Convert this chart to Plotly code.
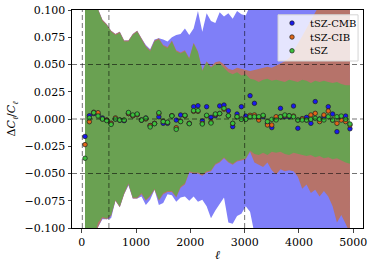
import plotly.graph_objects as go

# multipole grid
ell = [60 + 80 * i for i in range(62)]

# data points (fractional residuals)
tsz = [-0.036, 0.001, 0.0058, 0.0028, 0.0, -0.0015, -0.005, 0.0, -0.001, -0.001,
       0.006, 0.0037, 0.0046, -0.001, 0.0006, -0.0073, -0.0043, 0.0058, -0.0024, -0.003,
       0.0028, -0.0095, -0.0024, 0.0034, -0.0043, 0.0077, 0.0077, -0.0046, 0.0034, -0.0037,
       0.0046, 0.005, 0.0098, 0.003, -0.004, 0.0021, -0.0003, -0.0003, 0.0021, 0.0021,
       0.0021, 0.0034, -0.0024, -0.0003, -0.0009, 0.0021, 0.0037, 0.003, 0.0021, -0.0009,
       -0.0009, -0.0009, -0.0003, 0.0006, -0.0003, -0.0009, 0.0021, -0.0009, 0.0021, 0.0027,
       -0.0003, -0.0046]
tsz_cmb = [-0.016, 0.003, 0.005, 0.004, 0.001, -0.001, -0.004, 0.0, -0.001, -0.0015,
           0.005, 0.003, 0.004, -0.001, 0.001, -0.006, -0.004, 0.002, -0.004, -0.004,
           0.003, -0.001, 0.0037, 0.003, -0.004, 0.0113, 0.0122, -0.0018, 0.0113, 0.0015,
           0.003, 0.012, 0.0128, 0.0076, -0.007, 0.0046, 0.0113, 0.0027, 0.0214, 0.0144,
           0.001, 0.0021, -0.004, -0.0079, 0.0, 0.0098, 0.0021, 0.002, 0.0119, -0.0085,
           0.0, 0.0015, -0.004, 0.016, 0.0, 0.0021, 0.0113, 0.0046, -0.0116, 0.001,
           0.0027, -0.009]
tsz_cib = [-0.0235, -0.0025, 0.0062, 0.0058, 0.0, -0.001, -0.004, 0.001, -0.001, -0.001,
           0.005, 0.003, 0.004, -0.001, 0.0, -0.006, -0.004, 0.005, -0.002, -0.003,
           0.003, -0.008, -0.002, 0.003, -0.004, 0.007, 0.007, -0.004, 0.003, -0.003,
           0.004, 0.005, 0.009, 0.003, -0.004, 0.002, 0.0, 0.0, 0.0034, 0.0037,
           -0.001, 0.003, -0.0055, -0.0055, 0.0021, 0.002, 0.003, 0.003, 0.0027, -0.001,
           0.0003, -0.001, 0.0037, 0.0052, -0.0024, 0.0037, 0.0073, -0.001, -0.004, -0.001,
           -0.0024, -0.0055]

# error bands (upper / lower)
cmb_up = [0.13, 0.12, 0.11, 0.10, 0.091, 0.087, 0.081, 0.078, 0.080, 0.072,
          0.072, 0.078, 0.081, 0.074, 0.068, 0.064, 0.073, 0.074, 0.073, 0.071,
          0.075, 0.077, 0.078, 0.083, 0.077, 0.083, 0.099, 0.080, 0.097, 0.090,
          0.088, 0.098, 0.094, 0.097, 0.092, 0.099, 0.096, 0.095, 0.104, 0.11,
          0.12, 0.12, 0.12, 0.12, 0.12, 0.12, 0.12, 0.12, 0.12, 0.12,
          0.12, 0.12, 0.12, 0.12, 0.12, 0.12, 0.12, 0.12, 0.12, 0.12,
          0.12, 0.12]
cmb_lo = [-0.13, -0.12, -0.11, -0.099, -0.092, -0.092, -0.091, -0.075, -0.081, -0.069,
          -0.061, -0.073, -0.073, -0.071, -0.079, -0.074, -0.065, -0.079, -0.077, -0.069,
          -0.070, -0.076, -0.072, -0.071, -0.075, -0.071, -0.076, -0.074, -0.080, -0.091,
          -0.084, -0.078, -0.072, -0.095, -0.096, -0.089, -0.087, -0.080, -0.085, -0.105,
          -0.12, -0.12, -0.12, -0.12, -0.12, -0.12, -0.12, -0.12, -0.12, -0.12,
          -0.12, -0.12, -0.12, -0.12, -0.12, -0.12, -0.12, -0.12, -0.12, -0.12,
          -0.12, -0.12]
cib_up = [0.13, 0.12, 0.11, 0.10, 0.091, 0.087, 0.081, 0.078, 0.080, 0.072,
          0.072, 0.078, 0.081, 0.074, 0.067, 0.063, 0.072, 0.074, 0.068, 0.066,
          0.072, 0.063, 0.061, 0.063, 0.056, 0.070, 0.062, 0.045, 0.053, 0.048,
          0.052, 0.053, 0.050, 0.046, 0.045, 0.047, 0.046, 0.045, 0.044, 0.045,
          0.046, 0.047, 0.048, 0.047, 0.049, 0.051, 0.053, 0.056, 0.062, 0.069,
          0.076, 0.083, 0.090, 0.097, 0.105, 0.12, 0.12, 0.12, 0.12, 0.12,
          0.12, 0.12]
cib_lo = [-0.13, -0.12, -0.11, -0.099, -0.091, -0.092, -0.089, -0.075, -0.081, -0.069,
          -0.060, -0.073, -0.073, -0.069, -0.075, -0.071, -0.065, -0.075, -0.069, -0.067,
          -0.067, -0.072, -0.063, -0.060, -0.049, -0.050, -0.050, -0.052, -0.049, -0.048,
          -0.042, -0.040, -0.036, -0.040, -0.042, -0.039, -0.038, -0.037, -0.030, -0.040,
          -0.042, -0.044, -0.040, -0.047, -0.051, -0.046, -0.048, -0.047, -0.048, -0.053,
          -0.064, -0.060, -0.068, -0.065, -0.071, -0.066, -0.071, -0.080, -0.095, -0.088,
          -0.096, -0.105]
tsz_up = [0.13, 0.12, 0.11, 0.10, 0.09, 0.086, 0.080, 0.077, 0.079, 0.071,
          0.071, 0.077, 0.080, 0.073, 0.066, 0.062, 0.071, 0.073, 0.067, 0.065,
          0.071, 0.062, 0.060, 0.062, 0.055, 0.069, 0.061, 0.044, 0.052, 0.047,
          0.050, 0.051, 0.047, 0.043, 0.041, 0.043, 0.040, 0.041, 0.037, 0.036,
          0.034, 0.036, 0.037, 0.035, 0.036, 0.035, 0.034, 0.036, 0.035, 0.034,
          0.036, 0.035, 0.033, 0.035, 0.034, 0.035, 0.034, 0.033, 0.034, 0.032,
          0.031, 0.031]
tsz_lo = [-0.13, -0.12, -0.11, -0.095, -0.090, -0.091, -0.088, -0.074, -0.080, -0.068,
          -0.059, -0.072, -0.072, -0.068, -0.074, -0.070, -0.064, -0.074, -0.068, -0.066,
          -0.066, -0.071, -0.062, -0.059, -0.048, -0.049, -0.049, -0.051, -0.048, -0.047,
          -0.041, -0.039, -0.035, -0.039, -0.041, -0.038, -0.037, -0.036, -0.029, -0.032,
          -0.033, -0.031, -0.033, -0.030, -0.031, -0.030, -0.032, -0.033, -0.031, -0.032,
          -0.033, -0.034, -0.033, -0.035, -0.034, -0.036, -0.035, -0.037, -0.036, -0.038,
          -0.040, -0.041]

series_names = ["tSZ-CMB", "tSZ-CIB", "tSZ"]
vlines = [10, 500, 3000]
hlines = [-0.05, 0.0, 0.05]
xticks = [0, 1000, 2000, 3000, 4000, 5000]
yticks = [-0.1, -0.075, -0.05, -0.025, 0.0, 0.025, 0.05, 0.075, 0.1]

band_cols = ["#7f7ff8", "#b6736a", "#6aa152"]
dot_cols = ["#1818f0", "#e0661a", "#3cc03c"]
FONT = "DejaVu Serif"

fig = go.Figure()
for up, lo, col in [(cmb_up, cmb_lo, band_cols[0]), (cib_up, cib_lo, band_cols[1]),
                    (tsz_up, tsz_lo, band_cols[2])]:
    fig.add_trace(go.Scatter(x=ell, y=lo, mode="lines", line=dict(width=0, color=col),
                             showlegend=False, hoverinfo="skip"))
    fig.add_trace(go.Scatter(x=ell, y=up, mode="lines", line=dict(width=0, color=col),
                             fill="tonexty", fillcolor=col,
                             showlegend=False, hoverinfo="skip"))

for name, vals, col in zip(series_names, [tsz_cmb, tsz_cib, tsz], dot_cols):
    fig.add_trace(go.Scatter(x=ell, y=vals, mode="markers", name=name, showlegend=False,
                             marker=dict(size=4.5, color=col, line=dict(width=0.7, color="#202020"))))

# custom compact legend on an overlay axis in [0,1] units
lx0, lx1, ly0, ly1 = 0.708, 0.983, 0.766, 0.978
fig.add_trace(go.Scatter(x=[lx0, lx1, lx1, lx0, lx0], y=[ly0, ly0, ly1, ly1, ly0],
                         xaxis="x2", yaxis="y2", mode="lines", fill="toself",
                         fillcolor="rgba(255,255,255,0.8)", line=dict(color="#d4d4d4", width=1),
                         showlegend=False, hoverinfo="skip"))
row_y = [0.940, 0.876, 0.813]
fig.add_trace(go.Scatter(x=[0.756] * 3, y=row_y, xaxis="x2", yaxis="y2", mode="markers",
                         marker=dict(size=4.5, color=dot_cols, line=dict(width=0.7, color="#202020")),
                         showlegend=False, hoverinfo="skip"))
annotations = [dict(x=0.812, y=yy, xref="paper", yref="paper", text=nm, showarrow=False,
                    xanchor="left", yanchor="middle", font=dict(family=FONT, size=10))
               for nm, yy in zip(series_names, row_y)]

shapes = []
for v in vlines:
    shapes.append(dict(type="line", xref="x", yref="paper", x0=v, x1=v, y0=0, y1=1,
                       line=dict(color="rgba(0,0,0,0.55)", width=1, dash="5px,3px"), layer="above"))
for h in hlines:
    shapes.append(dict(type="line", xref="paper", yref="y", x0=0, x1=1, y0=h, y1=h,
                       line=dict(color="rgba(0,0,0,0.55)", width=1, dash="5px,3px"), layer="above"))

fig.update_layout(
    width=374, height=268,
    margin=dict(l=72, r=11, t=10, b=40),
    paper_bgcolor="white", plot_bgcolor="white",
    font=dict(family=FONT, size=11, color="black"),
    shapes=shapes, annotations=annotations,
    showlegend=False,
    xaxis=dict(range=[-180, 5180], tickvals=xticks, ticks="outside", ticklen=3.5,
               showline=True, linecolor="black", linewidth=1, mirror=True,
               showgrid=False, zeroline=False, automargin=False,
               title=dict(text="<i>ℓ</i>", standoff=2, font=dict(size=12))),
    yaxis=dict(range=[-0.1, 0.1], tickvals=yticks, tickformat=".3f", ticks="outside",
               ticklen=3.5, showline=True, linecolor="black", linewidth=1, mirror=True,
               showgrid=False, zeroline=False, automargin=False,
               title=dict(text="Δ<i>C</i><sub><i>ℓ</i></sub>/<i>C</i><sub><i>ℓ</i></sub>",
                          standoff=6, font=dict(size=11))),
    xaxis2=dict(range=[0, 1], overlaying="x", visible=False, fixedrange=True),
    yaxis2=dict(range=[0, 1], overlaying="y", visible=False, fixedrange=True),
)

fig.write_html("out.html", config={"displayModeBar": False, "staticPlot": True},
               post_script="document.body.style.margin='0';")
